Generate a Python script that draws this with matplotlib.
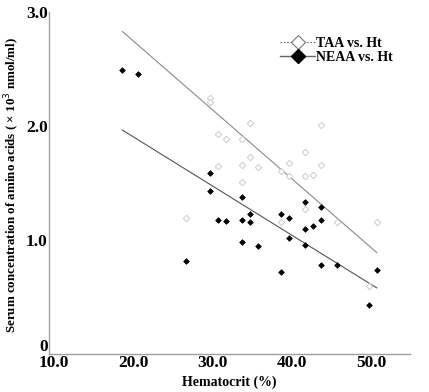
import matplotlib
matplotlib.use("Agg")
import matplotlib.pyplot as plt
import matplotlib.transforms as mtransforms
from matplotlib.lines import Line2D

# TAA vs Ht (open diamonds)
taa_ht = [27, 30, 30, 31, 31, 32, 34, 34, 34, 35, 35, 36, 39, 39, 40, 40,
          42, 42, 42, 43, 44, 44, 46, 50, 51]
taa_val = [1.19, 2.25, 2.21, 1.93, 1.65, 1.89, 1.89, 1.66, 1.51, 2.03, 1.73,
           1.64, 1.61, 1.16, 1.68, 1.56, 1.77, 1.56, 1.27, 1.57, 2.01, 1.66,
           1.16, 0.60, 1.16]

# NEAA vs Ht (filled diamonds)
neaa_ht = [19, 21, 27, 30, 30, 31, 32, 34, 34, 34, 35, 35, 36, 39, 39, 40, 40,
           42, 42, 42, 43, 44, 44, 44, 46, 50, 51]
neaa_val = [2.49, 2.46, 0.82, 1.59, 1.43, 1.18, 1.17, 1.38, 1.18, 0.98, 1.23,
            1.16, 0.95, 1.23, 0.72, 1.19, 1.02, 1.33, 1.10, 0.96, 1.12, 1.29,
            1.18, 0.78, 0.78, 0.43, 0.74]

# Regression lines (end points)
fit_ht = [19, 51]
taa_fit = [2.83, 0.89]
neaa_fit = [1.965, 0.58]

x_ticks = [10, 20, 30, 40, 50]
x_ticklabels = ["10.0", "20.0", "30.0", "40.0", "50.0"]
y_ticks = [0, 1, 2, 3]
y_ticklabels = ["0", "1.0", "2.0", "3.0"]

plt.rcParams['font.family'] = ['Liberation Serif', 'DejaVu Serif']

fig = plt.figure(figsize=(4.29, 3.92), dpi=100)
ax = fig.add_axes([0.114, 0.097, 0.842, 0.872])

ax.plot(fit_ht, taa_fit, color="#8a8a8a", lw=0.8, zorder=1)
ax.plot(fit_ht, neaa_fit, color="#555555", lw=0.8, zorder=1)

ax.plot(taa_ht, taa_val, linestyle="none", marker="D", markersize=3.3,
        markerfacecolor="white", markeredgecolor="#cccccc", markeredgewidth=0.7, zorder=2)
ax.plot(neaa_ht, neaa_val, linestyle="none", marker="D", markersize=2.9,
        markerfacecolor="black", markeredgecolor="black", markeredgewidth=0.5, zorder=3)

ax.set_xlim(9.75, 55.2)
ax.set_ylim(0, 3.0)
ax.set_xticks(x_ticks)
ax.set_xticklabels(x_ticklabels, fontsize=12.5, fontweight="bold")
ax.set_yticks(y_ticks)
ax.set_yticklabels(y_ticklabels, fontsize=12.5, fontweight="bold")
ax.tick_params(axis="both", length=0, pad=1)

# small offsets of tick labels as in the original
zero_lbl = ax.get_yticklabels()[0]
zero_lbl.set_transform(zero_lbl.get_transform() +
                       mtransforms.ScaledTranslation(0, 9 / 100, fig.dpi_scale_trans))
for lbl in ax.get_xticklabels():
    lbl.set_transform(lbl.get_transform() +
                      mtransforms.ScaledTranslation(3 / 100, 0, fig.dpi_scale_trans))

for s in ["top", "right"]:
    ax.spines[s].set_visible(False)
for s in ["left", "bottom"]:
    ax.spines[s].set_color("#a0a0a0")
    ax.spines[s].set_linewidth(1.0)

ax.set_xlabel("Hematocrit (%)", fontsize=10, fontweight="bold", labelpad=3)
ax.set_ylabel("Serum concentration of amino acids ( \u00d7 10$^{3}$ nmol/ml)",
              fontsize=9.4, fontweight="bold")
ax.yaxis.set_label_coords(-0.075, 0.495)

handles = [
    Line2D([0], [0], color="#777777", lw=0.8, linestyle=(0, (1.5, 1.5)), marker="D",
           markersize=7, markerfacecolor="white", markeredgecolor="#777777",
           markeredgewidth=0.8),
    Line2D([0], [0], color="#666666", lw=1.0, marker="D", markersize=7,
           markerfacecolor="black", markeredgecolor="black"),
]
leg = ax.legend(handles, ["TAA vs. Ht", "NEAA vs. Ht"], loc="upper left",
                bbox_to_anchor=(0.625, 0.945), frameon=False, handlelength=2.5,
                handletextpad=0.1, labelspacing=0.1, borderaxespad=0,
                prop={"weight": "bold", "size": 10})

fig.savefig("out.png", dpi=100)
